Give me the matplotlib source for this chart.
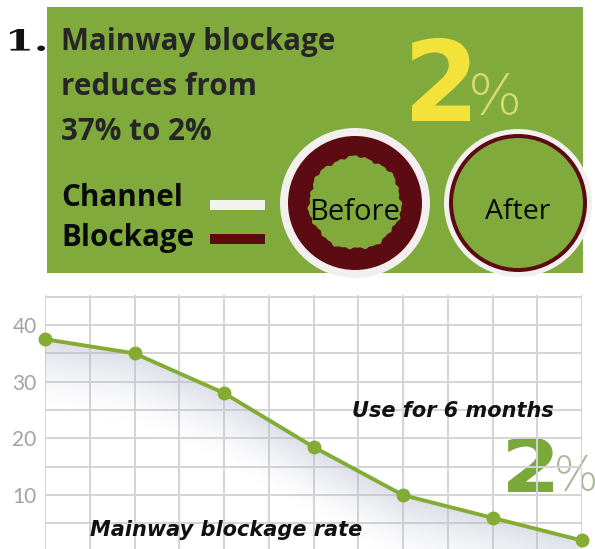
"""Mainway blockage infographic: before/after panel plus the 6-month trend."""

import matplotlib
matplotlib.use("Agg")

import matplotlib.pyplot as plt
import numpy as np
from matplotlib.font_manager import FontProperties
from matplotlib.patches import Circle, PathPatch, Polygon, Rectangle
from matplotlib.textpath import TextPath
from matplotlib.transforms import Affine2D

# data
months = [0, 1, 2, 3, 4, 5, 6]
blockage_rate = [37.5, 35, 28, 18.5, 10, 6, 2]
ytick_values = [10, 20, 30, 40]
ytick_labels = ["10", "20", "30", "40"]

title_lines = ["Mainway blockage", "reduces from", "37% to 2%"]
legend_labels = ["Channel", "Blockage"]
circle_labels = ["Before", "After"]

PANEL_GREEN = "#80aa3c"
LINE_GREEN = "#84ab33"
BROWN = "#5c0b12"
RING_WHITE = "#f3efef"

W, H = 595, 549
fig = plt.figure(figsize=(W / 100, H / 100), dpi=100)

# pixel-coordinate canvas for the decorative parts
bg = fig.add_axes([0, 0, 1, 1], zorder=0)
bg.set_xlim(0, W)
bg.set_ylim(H, 0)
bg.axis("off")


def glyph(ax, s, x0, x1, y0, y1, color, weight="bold", family="DejaVu Sans",
          zorder=5):
    """Draw text s stretched to fill the pixel box (x0..x1, y0..y1)."""
    tp = TextPath((0, 0), s, size=1, prop=FontProperties(family=family, weight=weight))
    ext = tp.get_extents()
    sx = (x1 - x0) / ext.width
    sy = (y1 - y0) / ext.height
    tr = (Affine2D().translate(-ext.x0, -ext.y0).scale(sx, -sy)
          .translate(x0, y1))
    ax.add_patch(PathPatch(tr.transform_path(tp), fc=color, ec="none",
                           zorder=zorder))


# ---- top panel ----
bg.add_patch(Rectangle((47, 7), 536, 266, fc=PANEL_GREEN, ec="none", zorder=1))

glyph(bg, "1.", 10, 45, 29, 51, "#111111", family="DejaVu Serif")
for i, line in enumerate(title_lines):
    bg.text(61, 42 + i * 45, line, fontsize=21.3, fontweight="bold",
            family="Open Sans", color="#262626", va="center", ha="left", zorder=5)

for i, lab in enumerate(legend_labels):
    bg.text(61, 198 + i * 40, lab, fontsize=21.3, fontweight="bold",
            family="Open Sans", color="#0a0a0a", va="center", ha="left", zorder=5)
bg.add_patch(Rectangle((210, 200), 55, 10, fc="#f2f2ee", ec="none", zorder=4))
bg.add_patch(Rectangle((210, 234), 55, 10, fc=BROWN, ec="none", zorder=4))

glyph(bg, "2", 412, 470, 38, 121, "#f2e23a")
glyph(bg, "%", 472, 518, 73, 115, "#d9db72", weight="light")

# before circle: thick blockage ring with rough inner edge
cx, cy = 355, 203
bg.add_patch(Circle((cx, cy), 75, fc=RING_WHITE, ec="none", zorder=3))
bg.add_patch(Circle((cx, cy), 67, fc=BROWN, ec="none", zorder=3))
theta = np.linspace(0, 2 * np.pi, 400)
rough = 46 + 1.0 * np.sin(7 * theta) + 0.8 * np.sin(19 * theta + 1.0) \
    + 0.5 * np.sin(37 * theta + 2.0)
bg.add_patch(Polygon(np.column_stack([cx + rough * np.cos(theta),
                                      cy + rough * np.sin(theta)]),
                     closed=True, fc=PANEL_GREEN, ec="none", zorder=3))
bg.text(cx, cy + 9, circle_labels[0], fontsize=21, family="Open Sans",
        color="#0a0a0a", ha="center", va="center", zorder=5)

# after circle: thin ring
cx2 = 518
bg.add_patch(Circle((cx2, cy), 74, fc=RING_WHITE, ec="none", zorder=3))
bg.add_patch(Circle((cx2, cy), 69, fc=BROWN, ec="none", zorder=3))
bg.add_patch(Circle((cx2, cy), 65, fc=PANEL_GREEN, ec="none", zorder=3))
bg.text(cx2, cy + 9, circle_labels[1], fontsize=20.5, family="Open Sans",
        color="#0a0a0a", ha="center", va="center", zorder=5)

# ---- line chart ----
left, right, top, bottom = 45, 582, 295, 549
ax = fig.add_axes([left / W, 1 - bottom / H, (right - left) / W, (bottom - top) / H],
                  zorder=1)
ax.set_facecolor("none")
ax.set_xlim(0, 6)
ax.set_ylim(0.5, 45.3)

ax.set_xticks(np.arange(0, 6.01, 0.5))
ax.set_xticklabels([])
ax.set_yticks(ytick_values)
ax.set_yticklabels(ytick_labels, color="#a3a3a3", fontsize=15, family="Lato")
ax.set_yticks(np.arange(5, 46, 10), minor=True)
ax.tick_params(axis="both", which="both", length=0)
ax.tick_params(axis="y", pad=6)
ax.grid(True, which="both", color="#d4d4d4", lw=1.4)
ax.set_axisbelow(True)
for sp in ax.spines.values():
    sp.set_visible(False)

# soft shadow under the line
gx = np.linspace(0, 6, 400)
gy = np.linspace(0.5, 45.3, 300)
GX, GY = np.meshgrid(gx, gy)
line_at = np.interp(GX, months, blockage_rate)
depth = line_at - GY
alpha = np.where(depth > 0, np.clip(1 - depth / 13, 0, 1) ** 1.6, 0) * 0.45
shade = np.zeros(GX.shape + (4,))
shade[..., 0] = 0.70
shade[..., 1] = 0.72
shade[..., 2] = 0.80
shade[..., 3] = alpha
ax.imshow(shade, extent=(0, 6, 0.5, 45.3), origin="lower", aspect="auto",
          interpolation="bilinear", zorder=2)

ax.plot(months, blockage_rate, color=LINE_GREEN, lw=2.8, marker="o", ms=9,
        mfc=LINE_GREEN, mec=LINE_GREEN, zorder=4, clip_on=False)

ax.text(352, 411, "Use for 6 months", transform=bg.transData, fontsize=15,
        family="DejaVu Sans", fontweight="bold", style="italic", color="#111111",
        ha="left", va="center", zorder=6)
ax.text(90, 530, "Mainway blockage rate", transform=bg.transData, fontsize=15,
        family="DejaVu Sans", fontweight="bold", style="italic", color="#111111",
        ha="left", va="center", zorder=6)

glyph(bg, "2", 508, 553, 437, 492, "#7aa83a")
glyph(bg, "%", 557, 595, 455, 491, "#a9b896", weight="light")

fig.savefig("out.png", dpi=100, facecolor="white")
